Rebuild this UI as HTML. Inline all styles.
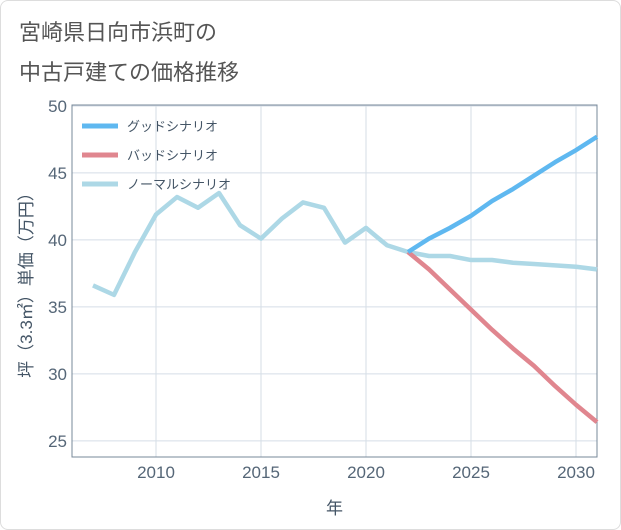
<!DOCTYPE html>
<html><head><meta charset="utf-8"><style>
body{margin:0;background:#fff;font-family:"Liberation Sans","Noto Sans CJK JP",sans-serif}
#wrap{position:relative;width:619px;height:528px;border:1px solid #ddd;border-radius:8px;background:#fff}
.t{position:absolute;left:18px;font-size:22px;color:#555}
</style></head><body>
<div id="wrap">
<div class="t" style="top:14px">宮崎県日向市浜町の</div>
<div class="t" style="top:54px">中古戸建ての価格推移</div>
<svg id="c" width="621" height="530" style="position:absolute;left:-1px;top:-1px"></svg>
</div>
<script>
const years=[2007,2008,2009,2010,2011,2012,2013,2014,2015,2016,2017,2018,2019,2020,2021,2022,2023,2024,2025,2026,2027,2028,2029,2030,2031];
const normal=[36.6,35.9,39.1,41.9,43.2,42.4,43.5,41.1,40.1,41.6,42.8,42.4,39.8,40.9,39.6,39.1,38.8,38.8,38.5,38.5,38.3,38.2,38.1,38.0,37.8];
const fYears=[2022,2023,2024,2025,2026,2027,2028,2029,2030,2031];
const good=[39.1,40.1,40.9,41.8,42.9,43.8,44.8,45.8,46.7,47.7];
const bad=[39.1,37.8,36.3,34.8,33.3,31.9,30.6,29.1,27.7,26.4];
const xTicks=[2010,2015,2020,2025,2030];
const yTicks=[25,30,35,40,45,50];
const L=72,R=597,T=105,B=457,x0=2006.0,x1=2031,y0=23.8,y1=50.07;
const X=v=>L+(v-x0)/(x1-x0)*(R-L), Y=v=>B-(v-y0)/(y1-y0)*(B-T);
const s=document.getElementById('c'),NS='http://www.w3.org/2000/svg';
function mk(t,a,p){const e=document.createElementNS(NS,t);for(const k in a)e.setAttribute(k,a[k]);(p||s).appendChild(e);return e;}
xTicks.forEach(v=>{
 let g=mk('line',{x1:X(v),x2:X(v),y1:T,y2:B,stroke:'#d5dde6'});
 
 
 let t=mk('text',{x:X(v),y:B+21,'text-anchor':'middle','font-size':17,fill:'#556677'});t.textContent=v;
 
 
});
yTicks.forEach(v=>{
 let g=mk('line',{x1:L,x2:R,y1:Y(v),y2:Y(v),stroke:'#d5dde6'});
 
 
 let t=mk('text',{x:L-5,y:Y(v)+6,'text-anchor':'end','font-size':17,fill:'#556677'});t.textContent=v;
 
 
});
let e=mk('rect',{x:L,y:T,width:R-L,height:B-T,fill:'none',stroke:'#778899','stroke-width':1});


function line(xs,ys,c,n){const p=mk('polyline',{points:xs.map((v,i)=>X(v)+','+Y(ys[i])).join(' '),fill:'none',stroke:c,'stroke-width':4.5,'stroke-linejoin':'round'});
 
 }
line(years,normal,'#add8e6','normal-scenario-line');
line(fYears,bad,'#e0868f','bad-scenario-line');
line(fYears,good,'#5fb8f0','good-scenario-line');
let xt=mk('text',{x:(L+R)/2,y:514,'text-anchor':'middle','font-size':17,fill:'#445566'});xt.textContent='年';


let yt=mk('text',{x:0,y:0,'text-anchor':'middle','font-size':17,fill:'#445566',transform:'translate(32,281) rotate(-90)'});yt.textContent='坪（3.3㎡）単価（万円）';


const legNames=['グッドシナリオ','バッドシナリオ','ノーマルシナリオ'],legCols=['#5fb8f0','#e0868f','#add8e6'];
legNames.forEach((n,i)=>{const y=126+i*29;
 let l=mk('line',{x1:82,x2:118,y1:y,y2:y,stroke:legCols[i],'stroke-width':5});
 
 
 let t=mk('text',{x:127,y:y+5,'font-size':13,fill:'#445566'});t.textContent=n;
 
 
});
</script>
</body></html>
